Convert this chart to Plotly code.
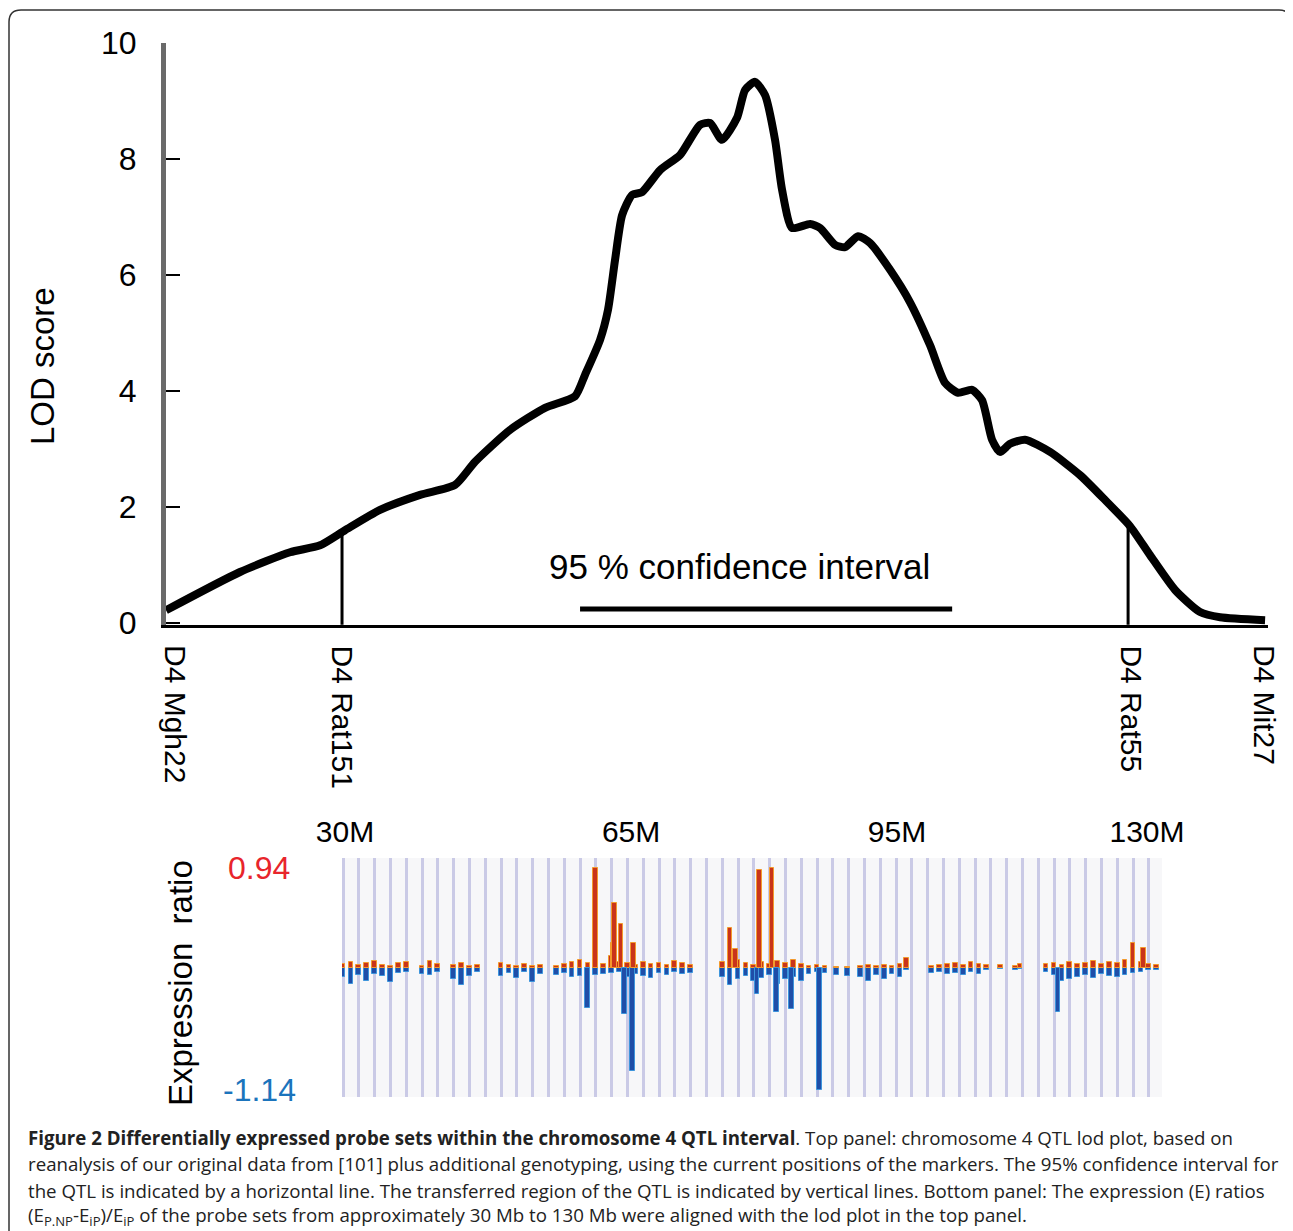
import numpy as np
import plotly.graph_objects as go

# the page body adds an 8px margin; the figure is sized so the picture fills the window
OFF = 8
W, H = 1293 - OFF, 1231 - OFF
def px(x):
    return (x - OFF) / W
def py(y):
    return 1 - (y - OFF) / H

# ---------------- data ----------------
# LOD curve (position in Mb, LOD score)
lod_pos = [7.59, 16.96, 23.29, 27.09, 30.25, 34.68, 39.75, 44.18, 46.71, 51.14,
           55.57, 59.37, 60.63, 62.53, 63.54, 64.43, 65.32, 66.58, 67.85, 70.13,
           72.66, 75.19, 76.46, 77.97, 79.87, 80.89, 82.15, 83.42, 84.68, 85.57,
           86.84, 89.11, 90.38, 92.28, 93.54, 95.19, 96.71, 99.24, 101.77, 104.30,
           106.20, 107.85, 109.62, 110.89, 112.15, 113.16, 114.43, 116.33, 119.49, 123.29,
           126.46, 129.62, 132.15, 135.32, 138.48, 141.01, 146.71]
lod_val = [0.22, 0.88, 1.22, 1.34, 1.60, 1.95, 2.21, 2.38, 2.78, 3.33,
           3.71, 3.91, 4.28, 4.88, 5.40, 6.26, 7.03, 7.38, 7.43, 7.81,
           8.07, 8.59, 8.62, 8.33, 8.71, 9.19, 9.33, 9.10, 8.33, 7.47,
           6.81, 6.88, 6.81, 6.52, 6.48, 6.67, 6.55, 6.09, 5.53, 4.79,
           4.14, 3.97, 4.02, 3.84, 3.16, 2.95, 3.09, 3.16, 2.95, 2.55,
           2.12, 1.67, 1.17, 0.57, 0.19, 0.10, 0.05]

marker_names = ["D4 Mgh22", "D4 Rat151", "D4 Rat55", "D4 Mit27"]
marker_pos = [7.59, 29.87, 129.37, 146.71]
transferred_markers = [29.87, 129.37]

ci_range = [60.0, 107.1]
ci_lod = 0.24
ci_label = "95 % confidence interval"

lod_ticks = [0, 2, 4, 6, 8, 10]

# Expression ratios of probe sets (position in Mb)
small_pos = [30, 31, 32, 33, 34, 35, 36, 37, 38, 40, 41, 42, 44, 45, 46, 47,
             50, 51, 52, 53, 54, 55, 57, 58, 59, 60, 61, 62, 63, 64, 65, 66, 67, 68, 69, 70, 71, 72, 73, 74,
             78, 79, 80, 81, 82, 83, 84, 85, 86, 87, 88, 89, 90, 91, 92.5, 93.9, 95.5, 96.5, 97.5, 98.5, 99.5, 100.5, 101.3,
             104.5, 105.5, 106.5, 107.5, 108.5, 109.5, 110.5, 111.5, 113.2, 115.1, 115.7,
             119, 120, 121, 122, 123, 124, 125, 126, 127, 128, 129, 130, 131, 132, 133]
small_up = [0.04, 0.06, 0.03, 0.05, 0.07, 0.03, 0.02, 0.05, 0.06, 0.02, 0.07, 0.04, 0.03, 0.05, 0.02, 0.03,
            0.05, 0.03, 0.02, 0.04, 0.02, 0.03, 0.02, 0.04, 0.06, 0.08, 0.05, 0.03, 0.04, 0.12, 0.06, 0.05, 0.03, 0.06, 0.04, 0.05, 0.03, 0.07, 0.05, 0.03,
            0.06, 0.04, 0.08, 0.05, 0.03, 0.06, 0.04, 0.07, 0.05, 0.08, 0.04, 0.02, 0.03, 0.02, 0.01, 0.01, 0.02, 0.03, 0.02, 0.03, 0.02, 0.04, 0.10,
            0.02, 0.03, 0.04, 0.05, 0.03, 0.06, 0.04, 0.03, 0.03, 0.02, 0.04,
            0.04, 0.05, 0.03, 0.06, 0.04, 0.05, 0.07, 0.04, 0.06, 0.05, 0.08, 0.05, 0.06, 0.04, 0.03]
small_down = [-0.08, -0.15, -0.06, -0.12, -0.05, -0.07, -0.13, -0.04, -0.03, -0.05, -0.06, -0.03, -0.10, -0.16, -0.07, -0.03,
              -0.07, -0.04, -0.09, -0.03, -0.13, -0.05, -0.06, -0.04, -0.08, -0.07, -0.10, -0.06, -0.05, -0.04, -0.03, -0.08, -0.05, -0.07, -0.09, -0.04, -0.06, -0.03, -0.05, -0.04,
              -0.08, -0.16, -0.10, -0.07, -0.12, -0.09, -0.06, -0.15, -0.10, -0.08, -0.12, -0.05, -0.03, -0.04, -0.06, -0.07, -0.08, -0.12, -0.06, -0.10, -0.05, -0.08, -0.02,
              -0.04, -0.03, -0.05, -0.04, -0.06, -0.03, -0.05, -0.02, -0.01, -0.02, -0.01,
              -0.03, -0.06, -0.12, -0.10, -0.08, -0.06, -0.09, -0.05, -0.07, -0.08, -0.06, -0.04, -0.03, -0.02, -0.02]

big_pos = [60.9, 62.0, 64.2, 64.4, 65.2, 65.6, 66.6, 66.8, 79.0, 79.7,
           82.4, 82.7, 84.3, 84.9, 86.8, 90.3, 120.5, 130.0, 131.3]
big_val = [-0.37, 0.94, 0.24, 0.61, 0.42, -0.43, -0.96, 0.24, 0.38, 0.18,
           -0.24, 0.92, 0.94, -0.41, -0.38, -1.14, -0.41, 0.24, 0.19]

ratio_max, ratio_min = 0.94, -1.14
region_tick_pos = [30.25, 66.46, 100.13, 131.77]
region_tick_text = ["30M", "65M", "95M", "130M"]

caption_lines = [
    "<b>Figure 2 Differentially expressed probe sets within the chromosome 4 QTL interval</b>. Top panel: chromosome 4 QTL lod plot, based on",
    "reanalysis of our original data from [101] plus additional genotyping, using the current positions of the markers. The 95% confidence interval for",
    "the QTL is indicated by a horizontal line. The transferred region of the QTL is indicated by vertical lines. Bottom panel: The expression (E) ratios",
    "(E<sub>P.NP</sub>-E<sub>iP</sub>)/E<sub>iP</sub> of the probe sets from approximately 30 Mb to 130 Mb were aligned with the lod plot in the top panel.",
]

# ---------------- figure ----------------
FONT = "Liberation Sans, Arial, sans-serif"
RED, ORANGE = "#c9341a", "#f39a2c"
BLUE, LBLUE = "#1f4ea8", "#3d95dc"

fig = go.Figure()

# LOD curve
fig.add_trace(go.Scatter(x=lod_pos, y=lod_val, mode="lines",
                         line=dict(color="black", width=8, shape="spline", smoothing=0.6),
                         xaxis="x", yaxis="y", showlegend=False, hoverinfo="skip"))
# transferred-region vertical lines
for m in transferred_markers:
    top = float(np.interp(m, lod_pos, lod_val))
    fig.add_trace(go.Scatter(x=[m, m], y=[-0.03, top], mode="lines",
                             line=dict(color="black", width=3),
                             xaxis="x", yaxis="y", showlegend=False, hoverinfo="skip"))
# confidence interval line
fig.add_trace(go.Scatter(x=ci_range, y=[ci_lod, ci_lod], mode="lines",
                         line=dict(color="black", width=5),
                         xaxis="x", yaxis="y", showlegend=False, hoverinfo="skip"))

# expression bars
bar_w = 0.6
fig.add_trace(go.Bar(x=small_pos, y=small_down, width=bar_w,
                     marker=dict(color=BLUE, line=dict(color=LBLUE, width=1)),
                     xaxis="x2", yaxis="y2", showlegend=False, hoverinfo="skip"))
fig.add_trace(go.Bar(x=small_pos, y=small_up, width=bar_w,
                     marker=dict(color=RED, line=dict(color=ORANGE, width=1)),
                     xaxis="x2", yaxis="y2", showlegend=False, hoverinfo="skip"))
big_colors = [RED if v > 0 else BLUE for v in big_val]
big_lines = [ORANGE if v > 0 else LBLUE for v in big_val]
fig.add_trace(go.Bar(x=big_pos, y=big_val, width=bar_w,
                     marker=dict(color=big_colors, line=dict(color=big_lines, width=1)),
                     xaxis="x2", yaxis="y2", showlegend=False, hoverinfo="skip"))

x_top_range = [7.59, 147.08]
x_bot_range = [29.87, 133.67]

fig.update_layout(
    width=W, height=H,
    autosize=False,
    margin=dict(l=0, r=0, t=0, b=0, pad=0),
    paper_bgcolor="white", plot_bgcolor="white",
    barmode="overlay", bargap=0,
    showlegend=False,
    font=dict(family=FONT, color="black"),
    xaxis=dict(domain=[px(166), px(1268)], range=x_top_range, automargin=False,
               showline=True, linecolor="black", linewidth=3,
               showgrid=False, zeroline=False, ticks="", showticklabels=False,
               anchor="y"),
    yaxis=dict(domain=[py(625), py(43)], range=[-0.034, 10], automargin=False,
               showline=True, linecolor="#6a6a6a", linewidth=5,
               showgrid=False, zeroline=False,
               tickmode="array", tickvals=lod_ticks,
               ticks="inside", ticklen=14, tickwidth=2, tickcolor="black",
               tickfont=dict(size=32, family=FONT, color="black"),
               ticklabelstandoff=18, anchor="x"),
    xaxis2=dict(domain=[px(342), px(1162)], range=x_bot_range, automargin=False,
                side="top", anchor="y2",
                showline=False, zeroline=False, showgrid=False,
                tickmode="array", tickvals=region_tick_pos, ticktext=region_tick_text,
                ticks="", tickfont=dict(size=30, family=FONT, color="black"),
                ticklabelstandoff=9,
                minor=dict(tickmode="linear", tick0=30, dtick=2, showgrid=True,
                           gridcolor="#cacae6", gridwidth=3, ticks="")),
    yaxis2=dict(domain=[py(1097), py(858)], range=[-1.206, 1.034], automargin=False,
                showline=False, zeroline=False, showgrid=False,
                showticklabels=False, ticks="", anchor="x2"),
)

shapes = []
# bottom panel background
shapes.append(dict(type="rect", xref="x2 domain", yref="y2 domain", x0=0, x1=1, y0=0, y1=1,
                   fillcolor="#f7f7f9", line=dict(width=0), layer="below"))
# frame with rounded top corners
x0, x1, yt = px(9), px(1291), py(10)
rx, ry = 12 / W, 12 / H
path = (f"M {x0},-0.02 L {x0},{yt - ry} Q {x0},{yt} {x0 + rx},{yt} "
        f"L {x1 - rx},{yt} Q {x1},{yt} {x1},{yt - ry} L {x1},-0.02")
shapes.append(dict(type="path", xref="paper", yref="paper", path=path,
                   line=dict(color="#333333", width=1.5)))
fig.update_layout(shapes=shapes)

ann = []
ann.append(dict(text="LOD score", x=px(42), y=py(366), xref="paper", yref="paper",
                xanchor="center", yanchor="middle",
                textangle=-90, showarrow=False, font=dict(size=33, family=FONT, color="black")))
label_shift = [10, 0, 3, 0]
for name, pos, sh in zip(marker_names, marker_pos, label_shift):
    ann.append(dict(text=name, x=pos, y=py(643), xref="x", yref="paper",
                    xanchor="center", yanchor="top", xshift=sh,
                    textangle=90, showarrow=False,
                    font=dict(size=30, family=FONT, color="black")))
ann.append(dict(text=ci_label, x=(ci_range[0] + ci_range[1]) / 2, y=0.98,
                xref="x", yref="y", showarrow=False, xshift=-27,
                xanchor="center", yanchor="middle",
                font=dict(size=35, family=FONT, color="black")))
ann.append(dict(text="Expression  ratio", x=px(180), y=py(983), xref="paper", yref="paper",
                xanchor="center", yanchor="middle",
                textangle=-90, showarrow=False, font=dict(size=33, family=FONT, color="black")))
ann.append(dict(text=f"{ratio_max:.2f}", x=px(292), y=ratio_max, xref="paper", yref="y2",
                xanchor="right", yanchor="middle", showarrow=False,
                font=dict(size=32, family=FONT, color="#e8252b")))
ann.append(dict(text=f"{ratio_min:.2f}", x=px(298), y=ratio_min, xref="paper", yref="y2",
                xanchor="right", yanchor="middle", showarrow=False,
                font=dict(size=32, family=FONT, color="#1b74bc")))
cap_y = [1137, 1163, 1190, 1216]
for line, yy in zip(caption_lines, cap_y):
    ann.append(dict(text=line, x=px(26), y=py(yy), xref="paper", yref="paper",
                    xanchor="left", yanchor="middle", showarrow=False,
                    font=dict(size=18.7, family="Open Sans, sans-serif", color="#222222")))
fig.update_layout(annotations=ann)

fig.write_html("out.html")
